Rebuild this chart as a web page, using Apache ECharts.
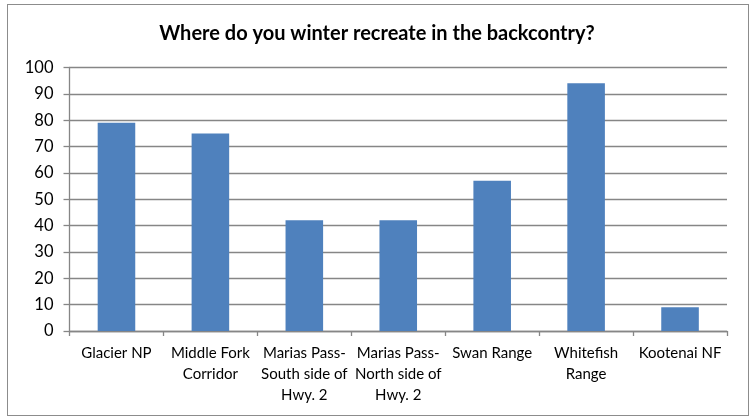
<!DOCTYPE html>
<html><head><meta charset="utf-8">
<script src="https://cdn.jsdelivr.net/npm/echarts@6/dist/echarts.min.js"></script>
<style>
html,body{margin:0;padding:0;background:#fff;}
#wrap{position:absolute;left:7px;top:4px;width:742px;height:412px;border:1px solid #8c8c8c;box-sizing:border-box;}
#c{position:absolute;left:0;top:0;width:754px;height:419px;}
</style></head>
<body>
<div id="wrap"></div>
<div id="c"></div>
<script>
const titleText = "Where do you winter recreate in the backcontry?";
const categories = ["Glacier NP", "Middle Fork\nCorridor", "Marias Pass-\nSouth side of\nHwy. 2", "Marias Pass-\nNorth side of\nHwy. 2", "Swan Range", "Whitefish\nRange", "Kootenai NF"];
const values = [79, 75, 42, 42, 57, 94, 9];
const yTicks = [0, 10, 20, 30, 40, 50, 60, 70, 80, 90, 100];

const chart = echarts.init(document.getElementById('c'), null, {renderer: 'canvas'});
const font = 'Lato, "Open Sans", sans-serif';
chart.setOption({
  animation: false,
  backgroundColor: 'transparent',
  title: {
    text: titleText, left: 'center', top: 19,
    textStyle: {fontFamily: font, fontWeight: 'bold', fontSize: 20, color: '#000'}
  },
  grid: {left: 69.5, right: 27, top: 67.5, bottom: 88, containLabel: false},
  xAxis: {
    type: 'category', data: categories,
    axisLine: {lineStyle: {color: '#868686', width: 1.3}},
    axisTick: {show: true, length: 5, lineStyle: {color: '#868686', width: 1.3}},
    axisLabel: {fontFamily: font, fontSize: 15, color: '#000', lineHeight: 21, margin: 11.5, interval: 0}
  },
  yAxis: {
    type: 'value', min: yTicks[0], max: yTicks[yTicks.length-1], interval: 10,
    axisLine: {show: true, lineStyle: {color: '#868686', width: 1.3}},
    axisTick: {show: true, length: 6, lineStyle: {color: '#868686', width: 1.3}},
    splitLine: {lineStyle: {color: '#868686', width: 1.3}},
    axisLabel: {fontFamily: font, fontSize: 16.5, color: '#000', margin: 16}
  },
  series: [{
    type: 'bar', data: values, barWidth: '40%',
    itemStyle: {color: '#4F81BD'}
  }]
});
</script>
</body></html>
